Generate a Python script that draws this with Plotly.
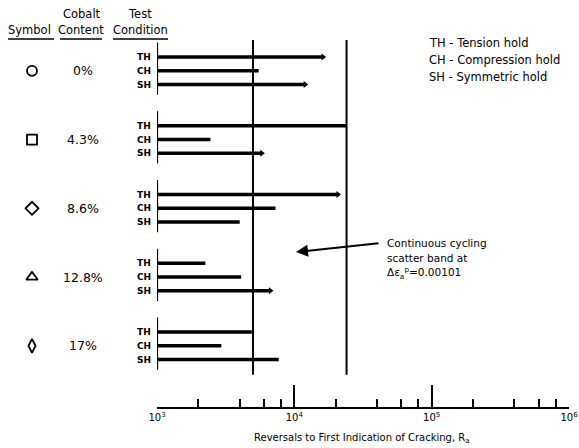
import plotly.graph_objects as go

# ---------------- data ----------------
contents = ["0%", "4.3%", "8.6%", "12.8%", "17%"]
group_symbols = ["circle-open", "square-open", "diamond-open", "triangle-up-open", "diamond-tall-open"]
conditions = ["TH", "CH", "SH"]
th_vals = [16200, 24000, 20800, 2250, 4900]
ch_vals = [5500, 2450, 7300, 4100, 2940]
sh_vals = [12000, 5800, 4000, 6700, 7700]
th_runout = [True, False, True, False, False]
ch_runout = [False, False, False, False, False]
sh_runout = [True, True, False, True, False]
band_edges = [5000, 24000]
x_start = 1000
major_ticks = [1e3, 1e4, 1e5, 1e6]
major_labels = ["10<sup>3</sup>", "10<sup>4</sup>", "10<sup>5</sup>", "10<sup>6</sup>"]
minor_ticks = [2e3, 4e3, 6e3, 8e3, 2e4, 4e4, 6e4, 8e4, 2e5, 4e5, 6e5, 8e5]
legend_lines = ["TH - Tension hold", "CH - Compression hold", "SH - Symmetric hold"]
note_lines = ["Continuous cycling", "scatter band at", "Δε<sub>a</sub><sup>p</sup>=0.00101"]

# ---------------- layout helpers ----------------
W, H = 579, 448
FONT = "DejaVu Sans"
GROUP_STEP = 5


def px(x):
    return x / W


def py(y):
    return 1 - y / H


def ypos(g, c):
    return g * GROUP_STEP + c


values = [th_vals, ch_vals, sh_vals]
runouts = [th_runout, ch_runout, sh_runout]

fig = go.Figure()

# bars (thick lines from x_start)
for c, vals in enumerate(values):
    xs, ys = [], []
    for g, v in enumerate(vals):
        xs += [x_start, v, None]
        ys += [ypos(g, c), ypos(g, c), None]
    fig.add_trace(go.Scatter(x=xs, y=ys, mode="lines",
                             line=dict(color="black", width=3.4),
                             hoverinfo="skip", xaxis="x", yaxis="y"))

# arrow heads on run-outs
ax_x, ax_y = [], []
for c, vals in enumerate(values):
    for g, v in enumerate(vals):
        if runouts[c][g]:
            ax_x.append(v)
            ax_y.append(ypos(g, c))
fig.add_trace(go.Scatter(x=ax_x, y=ax_y, mode="markers",
                         marker=dict(symbol="triangle-right", size=6, color="black"),
                         hoverinfo="skip", xaxis="x", yaxis="y"))

# group base lines at x_start
gx, gy = [], []
for g in range(len(contents)):
    gx += [x_start, x_start, None]
    gy += [ypos(g, 0) - 1.05, ypos(g, 2) + 0.75, None]
fig.add_trace(go.Scatter(x=gx, y=gy, mode="lines",
                         line=dict(color="black", width=2.2),
                         hoverinfo="skip", xaxis="x", yaxis="y"))

# scatter band lines
bx, by = [], []
for b in band_edges:
    bx += [b, b, None]
    by += [-1.3, 23.1, None]
fig.add_trace(go.Scatter(x=bx, y=by, mode="lines",
                         line=dict(color="black", width=2),
                         hoverinfo="skip", xaxis="x", yaxis="y"))

# symbols column
fig.add_trace(go.Scatter(x=[32] * len(contents),
                         y=[ypos(g, 1) for g in range(len(contents))],
                         mode="markers",
                         marker=dict(symbol=group_symbols, size=10, color="black",
                                     line=dict(color="black", width=1.8)),
                         hoverinfo="skip", xaxis="x2", yaxis="y"))

annotations = []
# content labels and condition labels
for g, ctext in enumerate(contents):
    annotations.append(dict(x=83, y=ypos(g, 1), xref="x2", yref="y", text=ctext,
                            showarrow=False, font=dict(family=FONT, size=12.5, color="black"),
                            xanchor="center", yanchor="middle"))
    for c, cond in enumerate(conditions):
        annotations.append(dict(x=153, y=ypos(g, c), xref="x2", yref="y",
                                text="<b>" + cond + "</b>", showarrow=False,
                                font=dict(family=FONT, size=9, color="black"),
                                xanchor="right", yanchor="middle"))

# headers
headers = [("Symbol", 30, 30), ("Cobalt", 82, 14), ("Content", 81, 30),
           ("Test", 140, 14), ("Condition", 140, 30)]
for t, x, y in headers:
    annotations.append(dict(x=px(x), y=py(y), xref="paper", yref="paper", text=t,
                            showarrow=False, font=dict(family=FONT, size=11.5, color="black"),
                            xanchor="center", yanchor="middle"))

# legend text
for i, t in enumerate(legend_lines):
    annotations.append(dict(x=px(427), y=py(43 + 17 * i), xref="paper", yref="paper", text=t,
                            showarrow=False, font=dict(family=FONT, size=11.5, color="black"),
                            xanchor="left", yanchor="middle"))

# note text
for i, t in enumerate(note_lines):
    annotations.append(dict(x=px(385), y=py(243 + 15 * i), xref="paper", yref="paper", text=t,
                            showarrow=False, font=dict(family=FONT, size=10.5, color="black"),
                            xanchor="left", yanchor="middle"))

# note arrow
annotations.append(dict(x=px(296), y=py(252), xref="paper", yref="paper", text="",
                        showarrow=True, arrowhead=2, arrowsize=1.2, arrowwidth=2,
                        arrowcolor="black", ax=84, ay=-9))

# axis title
annotations.append(dict(x=px(362), y=py(438), xref="paper", yref="paper",
                        text="Reversals to First Indication of Cracking, R<sub>a</sub>",
                        showarrow=False, font=dict(family=FONT, size=10, color="black"),
                        xanchor="center", yanchor="middle"))

shapes = []
for x0, x1 in [(8, 54), (60, 102), (113, 168)]:
    shapes.append(dict(type="line", xref="paper", yref="paper",
                       x0=px(x0), x1=px(x1), y0=py(39), y1=py(39),
                       line=dict(color="black", width=1.5)))

fig.update_layout(
    width=W, height=H,
    margin=dict(l=0, r=0, t=0, b=0),
    paper_bgcolor="white", plot_bgcolor="white",
    showlegend=False,
    font=dict(family=FONT, color="black"),
    xaxis=dict(type="log", range=[3, 6], domain=[px(157), px(569)], anchor="y",
               showline=True, linecolor="black", linewidth=2, mirror=False,
               ticks="inside", ticklen=22, tickwidth=2, tickcolor="black",
               tickvals=major_ticks, ticktext=major_labels,
               ticklabeloverflow="allow",
               tickfont=dict(family=FONT, size=10, color="black"),
               showgrid=False, zeroline=False, automargin=False,
               minor=dict(tickvals=minor_ticks, ticks="inside", ticklen=8,
                          tickwidth=1.5, tickcolor="black", showgrid=False)),
    yaxis=dict(domain=[py(407), py(40)], range=[25.45, -1.24], visible=False,
               showgrid=False, zeroline=False),
    xaxis2=dict(domain=[0, px(157)], range=[0, 157], anchor="y", visible=False,
                showgrid=False, zeroline=False),
    annotations=annotations,
    shapes=shapes,
)

fig.write_html("out.html")
